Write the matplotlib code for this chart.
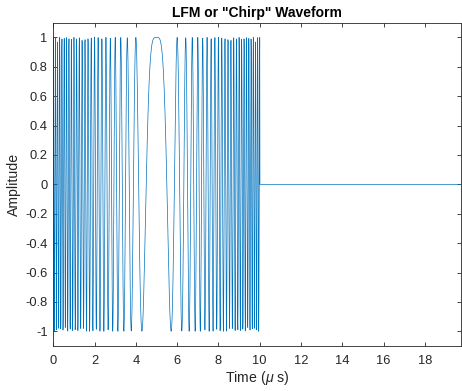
import numpy as np
import matplotlib
matplotlib.use("Agg")
import matplotlib.pyplot as plt

# Chirp (LFM) waveform parameters
pulse_width_us = 10.0      # pulse length (µs)
bandwidth_mhz = 20.0       # swept bandwidth (MHz)
sample_rate_mhz = 100.0    # sampling rate (MHz)
window_us = 19.75          # plotted time window (µs)

x_ticks = [0, 2, 4, 6, 8, 10, 12, 14, 16, 18]
y_ticks = [-1, -0.8, -0.6, -0.4, -0.2, 0, 0.2, 0.4, 0.6, 0.8, 1]
y_tick_labels = ["-1", "-0.8", "-0.6", "-0.4", "-0.2", "0", "0.2", "0.4", "0.6", "0.8", "1"]

title_text = 'LFM or "Chirp" Waveform'
x_label = r'Time ($\mu$ s)'
y_label = 'Amplitude'

# signal
t = np.arange(0, window_us + 1e-9, 1.0 / sample_rate_mhz)
slope = bandwidth_mhz / pulse_width_us
sig = np.where(t <= pulse_width_us,
               np.cos(np.pi * slope * (t - pulse_width_us / 2) ** 2), 0.0)

plt.rcParams['font.family'] = ['Liberation Sans', 'DejaVu Sans']
plt.rcParams['axes.unicode_minus'] = False
plt.rcParams['mathtext.fontset'] = 'custom'
plt.rcParams['mathtext.it'] = 'Liberation Sans:italic'
plt.rcParams['mathtext.rm'] = 'Liberation Sans'

W, H = 462, 391
fig = plt.figure(figsize=(W / 100, H / 100), dpi=100)
left, right, top, bottom = 53.3, 461.0, 22.7, 346.0
ax = fig.add_axes([left / W, 1 - bottom / H, (right - left) / W, (bottom - top) / H])

ax.plot(t, sig, color='#0072BD', linewidth=0.5)

ax.set_xlim(0, window_us)
ax.set_ylim(-1.1, 1.1)
ax.set_xticks(x_ticks)
ax.set_yticks(y_ticks)
ax.set_yticklabels(y_tick_labels)

axc = '#262626'
for s in ax.spines.values():
    s.set_color(axc)
    s.set_linewidth(0.6)
ax.tick_params(direction='in', length=3, width=0.6, colors=axc, labelsize=9.3,
               top=True, right=True)
ax.tick_params(axis='x', pad=6.5)
ax.tick_params(axis='y', pad=4)

ax.set_xlabel(x_label, fontsize=10.2, color=axc, labelpad=1.5)
ax.set_ylabel(y_label, fontsize=10.2, color=axc, labelpad=3)
ax.set_title(title_text, fontsize=10, fontweight='bold', color='black', pad=4)

fig.savefig('out.png', dpi=100)
